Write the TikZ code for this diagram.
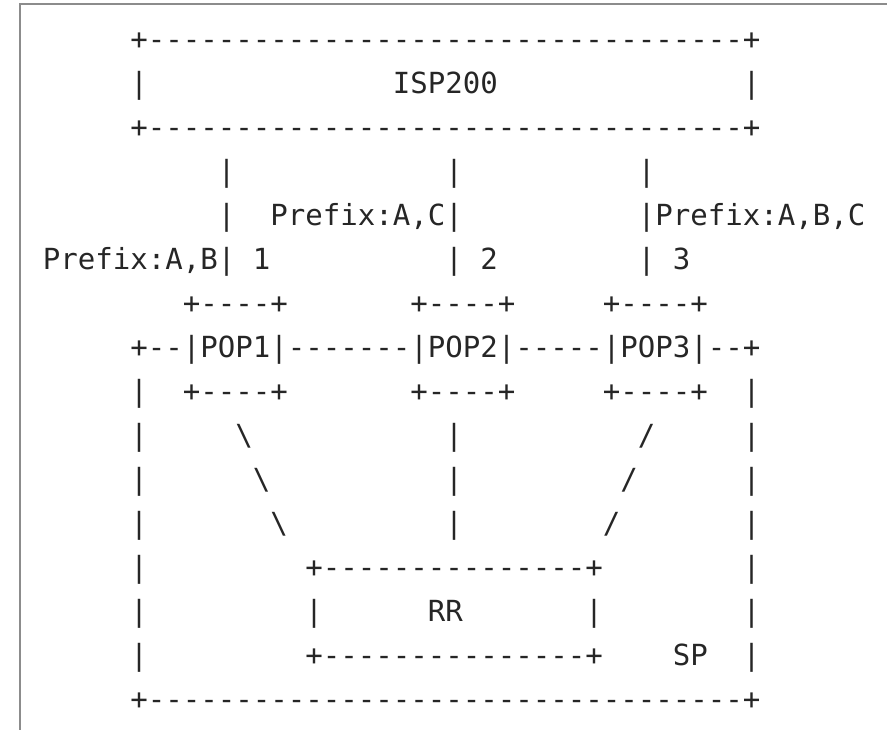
\documentclass[tikz,border=0pt]{standalone}
\usepackage{fontspec}
\setmonofont{DejaVu Sans Mono}
\usepackage{tikz}

\begin{document}
\begin{tikzpicture}[x=17.5pt, y=-44pt]
		\tikzset{
			ascii/.style={anchor=base west, inner sep=0pt, outer sep=0pt, text=black!85,
			font=\ttfamily\fontsize{29.07pt}{29.07pt}\selectfont},
			frame/.style={draw=black!45, line width=2pt}
		}
		\useasboundingbox (-2.443,-0.12) rectangle (48.24,16.47);
		\draw[frame] (48.24,-0.03) -- (-1.3,-0.03) -- (-1.3,16.47);

		% ISP200 box
		\node[ascii] (isptop) at (5,1) {+----------------------------------+};
		\node[ascii] (ispl) at (5,2) {|};
		\node[ascii] (ispname) at (20,2) {ISP200};
		\node[ascii] (ispr) at (40,2) {|};
		\node[ascii] (ispbot) at (5,3) {+----------------------------------+};

		% uplinks with their prefixes
		\node[ascii] (up1a) at (10,4) {|};
		\node[ascii] (up2a) at (23,4) {|};
		\node[ascii] (up3a) at (34,4) {|};
		\node[ascii] (up1b) at (10,5) {|};
		\node[ascii] (pfx2) at (13,5) {Prefix:A,C|};
		\node[ascii] (pfx3) at (34,5) {|Prefix:A,B,C};
		\node[ascii] (pfx1) at (0,6) {Prefix:A,B|};
		\node[ascii] (lnk1) at (12,6) {1};
		\node[ascii] (up2c) at (23,6) {|};
		\node[ascii] (lnk2) at (25,6) {2};
		\node[ascii] (up3c) at (34,6) {|};
		\node[ascii] (lnk3) at (36,6) {3};

		% POPs
		\node[ascii] (pop1top) at (8,7) {+----+};
		\node[ascii] (pop2top) at (21,7) {+----+};
		\node[ascii] (pop3top) at (32,7) {+----+};
		\node[ascii] (pops) at (5,8) {+--|POP1|-------|POP2|-----|POP3|--+};
		\node[ascii] (pop1bot) at (8,9) {+----+};
		\node[ascii] (pop2bot) at (21,9) {+----+};
		\node[ascii] (pop3bot) at (32,9) {+----+};

		% SP walls
		\foreach \r in {9,...,15} {
			\node[ascii] (spl\r) at (5,\r) {|};
			\node[ascii] (spr\r) at (40,\r) {|};
		}

		% sessions to the RR
		\node[ascii] (rr1a) at (11,10) {\textbackslash};
		\node[ascii] (rr1b) at (12,11) {\textbackslash};
		\node[ascii] (rr1c) at (13,12) {\textbackslash};
		\node[ascii] (rr2a) at (23,10) {|};
		\node[ascii] (rr2b) at (23,11) {|};
		\node[ascii] (rr2c) at (23,12) {|};
		\node[ascii] (rr3a) at (34,10) {/};
		\node[ascii] (rr3b) at (33,11) {/};
		\node[ascii] (rr3c) at (32,12) {/};

		% RR box
		\node[ascii] (rrtop) at (15,13) {+---------------+};
		\node[ascii] (rrl) at (15,14) {|};
		\node[ascii] (rrname) at (22,14) {RR};
		\node[ascii] (rrr) at (31,14) {|};
		\node[ascii] (rrbot) at (15,15) {+---------------+};
		\node[ascii] (spname) at (36,15) {SP};
		\node[ascii] (spbot) at (5,16) {+----------------------------------+};

	\end{tikzpicture}
\end{document}
